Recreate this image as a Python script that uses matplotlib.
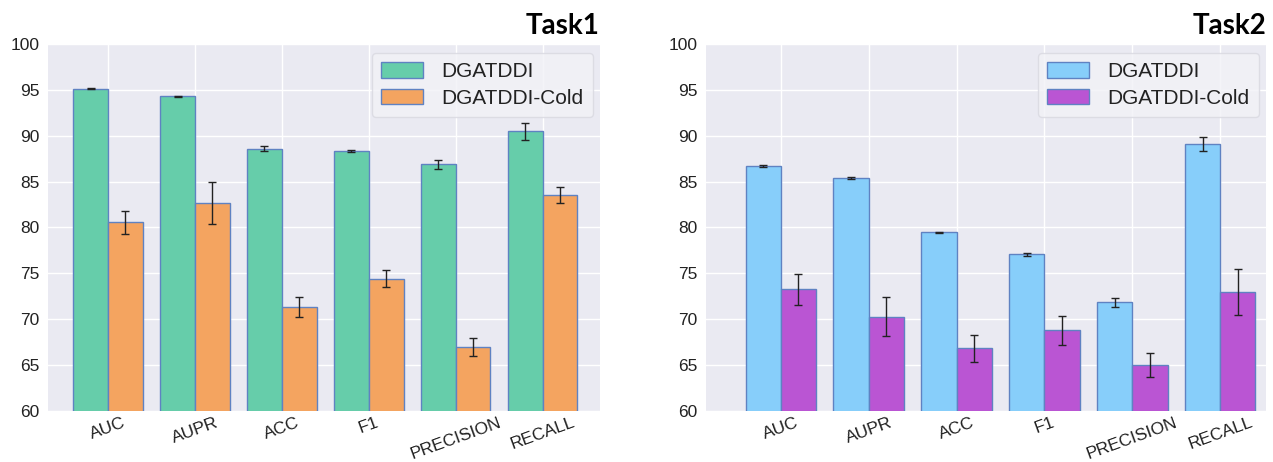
import matplotlib
matplotlib.use("Agg")
import matplotlib.pyplot as plt
import numpy as np

metrics = ["AUC", "AUPR", "ACC", "F1", "PRECISION", "RECALL"]
series_names = ["DGATDDI", "DGATDDI-Cold"]

task1_warm = [95.13, 94.30, 88.58, 88.37, 86.88, 90.51]
task1_warm_err = [0.05, 0.05, 0.25, 0.10, 0.50, 0.93]
task1_cold = [80.55, 82.70, 71.35, 74.41, 67.00, 83.53]
task1_cold_err = [1.30, 2.30, 1.10, 0.93, 1.00, 0.87]

task2_warm = [86.70, 85.39, 79.47, 77.07, 71.83, 89.10]
task2_warm_err = [0.08, 0.08, 0.08, 0.20, 0.50, 0.75]
task2_cold = [73.28, 70.27, 66.82, 68.78, 64.98, 72.95]
task2_cold_err = [1.70, 2.10, 1.50, 1.55, 1.30, 2.50]

yticks = [60, 65, 70, 75, 80, 85, 90, 95, 100]

plt.rcParams['font.family'] = ['Liberation Sans', 'DejaVu Sans']

fig = plt.figure(figsize=(12.73, 4.62), dpi=100)
ax1 = fig.add_axes([0.0377, 0.1104, 0.4336, 0.7944])
ax2 = fig.add_axes([0.5546, 0.1104, 0.4399, 0.7944])

edge = '#5f82c2'
w = 0.4

def draw(ax, warm, warm_err, cold, cold_err, c1, c2, title, xlim):
    x = np.arange(len(metrics))
    ax.set_facecolor('#EAEAF2')
    ax.bar(x - w/2, warm, w, color=c1, edgecolor=edge, linewidth=1.0,
           label=series_names[0], zorder=2)
    ax.bar(x + w/2, cold, w, color=c2, edgecolor=edge, linewidth=1.0,
           label=series_names[1], zorder=2)
    ax.errorbar(x - w/2, warm, yerr=warm_err, fmt='none', ecolor='#222222',
                elinewidth=1.0, capsize=3, capthick=1.0, zorder=3)
    ax.errorbar(x + w/2, cold, yerr=cold_err, fmt='none', ecolor='#222222',
                elinewidth=1.0, capsize=3, capthick=1.0, zorder=3)
    ax.set_ylim(60, 100)
    ax.set_xlim(*xlim)
    ax.set_yticks(yticks)
    ax.set_yticklabels([str(t) for t in yticks], fontsize=12.5, color='#222222')
    ax.set_xticks(x)
    ax.set_xticklabels(metrics, rotation=20, ha='center', fontsize=12.5, color='#222222')
    ax.tick_params(axis='y', length=0, pad=6)
    ax.tick_params(axis='x', length=0, pad=3)
    ax.grid(True, color='white', linewidth=1.0, zorder=0)
    ax.set_axisbelow(True)
    for s in ax.spines.values():
        s.set_visible(False)
    bw = ax.get_position().width * fig.get_figwidth() * fig.dpi
    bh = ax.get_position().height * fig.get_figheight() * fig.dpi
    leg = ax.legend(loc='upper right', fontsize=15, frameon=True, framealpha=0.8,
                    facecolor='#F2F2F7', edgecolor='#D8D8E0', borderpad=0.45,
                    handlelength=2.0, handleheight=0.75, labelspacing=0.35,
                    handletextpad=0.9, borderaxespad=0,
                    bbox_to_anchor=(1 - 7 / bw, 1 - 9 / bh))
    for t in leg.get_texts():
        t.set_color('#222222')
    ax.set_title(title, loc='right', fontsize=20, fontweight='bold',
                 family=['Lato', 'DejaVu Sans'], pad=7)

draw(ax1, task1_warm, task1_warm_err, task1_cold, task1_cold_err,
     '#66CDAA', '#F4A460', 'Task1', (-0.69, 5.66))
draw(ax2, task2_warm, task2_warm_err, task2_cold, task2_cold_err,
     '#87CEFA', '#BA55D3', 'Task2', (-0.85, 5.52))

fig.savefig('out.png', dpi=100, facecolor='white')
